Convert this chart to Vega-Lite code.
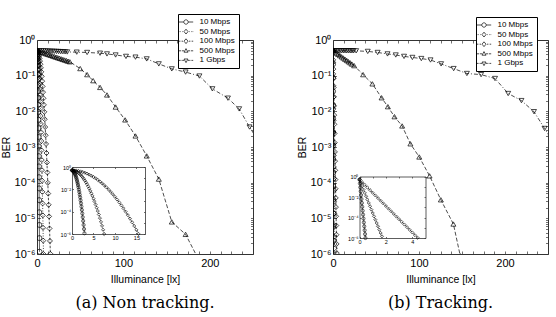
{
  "$schema": "https://vega.github.io/schema/vega-lite/v6.json",
  "padding": {"left": 1, "top": 13, "right": 5, "bottom": 3},
  "background": "white",
  "config": {
    "view": {"stroke": null},
    "font": "Liberation Sans",
    "axis": {"grid": false, "domainColor": "#333", "domainWidth": 1, "tickColor": "#333", "tickWidth": 0.7, "labelColor": "black", "labelFont": "Liberation Sans", "titleFont": "Liberation Sans", "titleFontWeight": "normal", "titleColor": "black", "labelFlush": false}
  },
  "datasets": {
    "na": [
      {"s":"10 Mbps","x":0,"ber":0.5},{"s":"10 Mbps","x":0.1,"ber":0.493},{"s":"10 Mbps","x":0.2,"ber":0.471},{"s":"10 Mbps","x":0.3,"ber":0.436},{"s":"10 Mbps","x":0.4,"ber":0.391},{"s":"10 Mbps","x":0.5,"ber":0.341},{"s":"10 Mbps","x":0.6,"ber":0.288},{"s":"10 Mbps","x":0.7,"ber":0.236},{"s":"10 Mbps","x":0.8,"ber":0.187},{"s":"10 Mbps","x":0.9,"ber":0.144},{"s":"10 Mbps","x":1.0,"ber":0.107},{"s":"10 Mbps","x":1.1,"ber":0.0773},{"s":"10 Mbps","x":1.2,"ber":0.0542},{"s":"10 Mbps","x":1.3,"ber":0.0369},{"s":"10 Mbps","x":1.4,"ber":0.0243},{"s":"10 Mbps","x":1.5,"ber":0.0156},{"s":"10 Mbps","x":1.6,"ber":0.00964},{"s":"10 Mbps","x":1.7,"ber":0.00579},{"s":"10 Mbps","x":1.8,"ber":0.00337},{"s":"10 Mbps","x":1.9,"ber":0.00191},{"s":"10 Mbps","x":2.0,"ber":0.00104},{"s":"10 Mbps","x":2.1,"ber":5.55e-4},{"s":"10 Mbps","x":2.2,"ber":2.86e-4},{"s":"10 Mbps","x":2.3,"ber":1.43e-4},{"s":"10 Mbps","x":2.4,"ber":6.92e-5},{"s":"10 Mbps","x":2.5,"ber":3.24e-5},{"s":"10 Mbps","x":2.6,"ber":1.48e-5},{"s":"10 Mbps","x":2.7,"ber":6.53e-6},{"s":"10 Mbps","x":2.8,"ber":2.79e-6},{"s":"10 Mbps","x":2.9,"ber":1.16e-6},
      {"s":"50 Mbps","x":0,"ber":0.5},{"s":"50 Mbps","x":0.25,"ber":0.493},{"s":"50 Mbps","x":0.5,"ber":0.472},{"s":"50 Mbps","x":0.75,"ber":0.439},{"s":"50 Mbps","x":1,"ber":0.396},{"s":"50 Mbps","x":1.25,"ber":0.348},{"s":"50 Mbps","x":1.5,"ber":0.296},{"s":"50 Mbps","x":1.75,"ber":0.245},{"s":"50 Mbps","x":2,"ber":0.197},{"s":"50 Mbps","x":2.25,"ber":0.154},{"s":"50 Mbps","x":2.5,"ber":0.116},{"s":"50 Mbps","x":2.75,"ber":0.0857},{"s":"50 Mbps","x":3,"ber":0.0612},{"s":"50 Mbps","x":3.25,"ber":0.0426},{"s":"50 Mbps","x":3.5,"ber":0.0287},{"s":"50 Mbps","x":3.75,"ber":0.0188},{"s":"50 Mbps","x":4,"ber":0.012},{"s":"50 Mbps","x":4.25,"ber":0.0074},{"s":"50 Mbps","x":4.5,"ber":0.00444},{"s":"50 Mbps","x":4.75,"ber":0.00259},{"s":"50 Mbps","x":5,"ber":0.00147},{"s":"50 Mbps","x":5.25,"ber":8.07e-4},{"s":"50 Mbps","x":5.5,"ber":4.31e-4},{"s":"50 Mbps","x":5.75,"ber":2.24e-4},{"s":"50 Mbps","x":6,"ber":1.13e-4},{"s":"50 Mbps","x":6.25,"ber":5.52e-5},{"s":"50 Mbps","x":6.5,"ber":2.62e-5},{"s":"50 Mbps","x":6.75,"ber":1.21e-5},{"s":"50 Mbps","x":7,"ber":5.43e-6},{"s":"50 Mbps","x":7.25,"ber":2.37e-6},{"s":"50 Mbps","x":7.5,"ber":1.0e-6},
      {"s":"100 Mbps","x":0,"ber":0.5},{"s":"100 Mbps","x":0.5,"ber":0.493},{"s":"100 Mbps","x":1,"ber":0.473},{"s":"100 Mbps","x":1.5,"ber":0.443},{"s":"100 Mbps","x":2,"ber":0.402},{"s":"100 Mbps","x":2.5,"ber":0.356},{"s":"100 Mbps","x":3,"ber":0.306},{"s":"100 Mbps","x":3.5,"ber":0.256},{"s":"100 Mbps","x":4,"ber":0.209},{"s":"100 Mbps","x":4.5,"ber":0.166},{"s":"100 Mbps","x":5,"ber":0.128},{"s":"100 Mbps","x":5.5,"ber":0.0959},{"s":"100 Mbps","x":6,"ber":0.0702},{"s":"100 Mbps","x":6.5,"ber":0.0499},{"s":"100 Mbps","x":7,"ber":0.0345},{"s":"100 Mbps","x":7.5,"ber":0.0232},{"s":"100 Mbps","x":8,"ber":0.0152},{"s":"100 Mbps","x":8.5,"ber":0.0097},{"s":"100 Mbps","x":9,"ber":0.00601},{"s":"100 Mbps","x":9.5,"ber":0.00363},{"s":"100 Mbps","x":10,"ber":0.00213},{"s":"100 Mbps","x":10.5,"ber":0.00122},{"s":"100 Mbps","x":11,"ber":6.78e-4},{"s":"100 Mbps","x":11.5,"ber":3.67e-4},{"s":"100 Mbps","x":12,"ber":1.93e-4},{"s":"100 Mbps","x":12.5,"ber":9.91e-5},{"s":"100 Mbps","x":13,"ber":4.94e-5},{"s":"100 Mbps","x":13.5,"ber":2.4e-5},{"s":"100 Mbps","x":14,"ber":1.13e-5},{"s":"100 Mbps","x":14.5,"ber":5.2e-6},{"s":"100 Mbps","x":15,"ber":2.32e-6},{"s":"100 Mbps","x":15.5,"ber":1.01e-6},
      {"s":"500 Mbps","x":0,"ber":0.5},{"s":"500 Mbps","x":2,"ber":0.483},{"s":"500 Mbps","x":4,"ber":0.465},{"s":"500 Mbps","x":6,"ber":0.448},{"s":"500 Mbps","x":8,"ber":0.432},{"s":"500 Mbps","x":10,"ber":0.415},{"s":"500 Mbps","x":12,"ber":0.4},{"s":"500 Mbps","x":14,"ber":0.385},{"s":"500 Mbps","x":16,"ber":0.371},{"s":"500 Mbps","x":18,"ber":0.357},{"s":"500 Mbps","x":20,"ber":0.344},{"s":"500 Mbps","x":22,"ber":0.331},{"s":"500 Mbps","x":24,"ber":0.319},{"s":"500 Mbps","x":26,"ber":0.308},{"s":"500 Mbps","x":28,"ber":0.296},{"s":"500 Mbps","x":30,"ber":0.285},{"s":"500 Mbps","x":32,"ber":0.275},{"s":"500 Mbps","x":34,"ber":0.265},{"s":"500 Mbps","x":36,"ber":0.255},{"s":"500 Mbps","x":38,"ber":0.245},{"s":"500 Mbps","x":50,"ber":0.158},{"s":"500 Mbps","x":58,"ber":0.107},{"s":"500 Mbps","x":65,"ber":0.0724},{"s":"500 Mbps","x":73,"ber":0.0468},{"s":"500 Mbps","x":81,"ber":0.0288},{"s":"500 Mbps","x":91,"ber":0.0132},{"s":"500 Mbps","x":102,"ber":0.00575},{"s":"500 Mbps","x":114,"ber":0.00204},{"s":"500 Mbps","x":127,"ber":5.62e-4},{"s":"500 Mbps","x":141,"ber":1.26e-4},{"s":"500 Mbps","x":156,"ber":7.94e-6},{"s":"500 Mbps","x":172,"ber":3.55e-6},{"s":"500 Mbps","x":188,"ber":6.3e-7},
      {"s":"1 Gbps","x":0,"ber":0.5},{"s":"1 Gbps","x":2.5,"ber":0.499},{"s":"1 Gbps","x":5,"ber":0.497},{"s":"1 Gbps","x":7.5,"ber":0.495},{"s":"1 Gbps","x":10,"ber":0.493},{"s":"1 Gbps","x":12.5,"ber":0.49},{"s":"1 Gbps","x":15,"ber":0.487},{"s":"1 Gbps","x":17.5,"ber":0.484},{"s":"1 Gbps","x":20,"ber":0.481},{"s":"1 Gbps","x":22.5,"ber":0.478},{"s":"1 Gbps","x":25,"ber":0.475},{"s":"1 Gbps","x":27.5,"ber":0.472},{"s":"1 Gbps","x":30,"ber":0.469},{"s":"1 Gbps","x":32.5,"ber":0.465},{"s":"1 Gbps","x":35,"ber":0.462},{"s":"1 Gbps","x":46,"ber":0.457},{"s":"1 Gbps","x":58,"ber":0.447},{"s":"1 Gbps","x":73,"ber":0.427},{"s":"1 Gbps","x":81,"ber":0.407},{"s":"1 Gbps","x":91,"ber":0.38},{"s":"1 Gbps","x":103,"ber":0.347},{"s":"1 Gbps","x":114,"ber":0.331},{"s":"1 Gbps","x":127,"ber":0.295},{"s":"1 Gbps","x":141,"ber":0.214},{"s":"1 Gbps","x":156,"ber":0.155},{"s":"1 Gbps","x":172,"ber":0.126},{"s":"1 Gbps","x":188,"ber":0.0977},{"s":"1 Gbps","x":203,"ber":0.0427},{"s":"1 Gbps","x":221,"ber":0.0234},{"s":"1 Gbps","x":234,"ber":0.0117},{"s":"1 Gbps","x":246,"ber":0.00363},{"s":"1 Gbps","x":254,"ber":0.00178}
    ],
    "tr": [
      {"s":"10 Mbps","x":0,"ber":0.5},{"s":"10 Mbps","x":0.03,"ber":0.209},{"s":"10 Mbps","x":0.06,"ber":0.0871},{"s":"10 Mbps","x":0.09,"ber":0.0363},{"s":"10 Mbps","x":0.12,"ber":0.0151},{"s":"10 Mbps","x":0.15,"ber":0.00631},{"s":"10 Mbps","x":0.18,"ber":0.00263},{"s":"10 Mbps","x":0.21,"ber":0.0011},{"s":"10 Mbps","x":0.24,"ber":4.57e-4},{"s":"10 Mbps","x":0.27,"ber":1.91e-4},{"s":"10 Mbps","x":0.3,"ber":7.94e-5},{"s":"10 Mbps","x":0.33,"ber":3.31e-5},{"s":"10 Mbps","x":0.36,"ber":1.38e-5},{"s":"10 Mbps","x":0.39,"ber":5.75e-6},{"s":"10 Mbps","x":0.42,"ber":2.4e-6},{"s":"10 Mbps","x":0.45,"ber":1.0e-6},
      {"s":"50 Mbps","x":0,"ber":0.5},{"s":"50 Mbps","x":0.1,"ber":0.237},{"s":"50 Mbps","x":0.2,"ber":0.112},{"s":"50 Mbps","x":0.3,"ber":0.0527},{"s":"50 Mbps","x":0.4,"ber":0.0249},{"s":"50 Mbps","x":0.5,"ber":0.0117},{"s":"50 Mbps","x":0.6,"ber":0.00555},{"s":"50 Mbps","x":0.7,"ber":0.00262},{"s":"50 Mbps","x":0.8,"ber":0.00124},{"s":"50 Mbps","x":0.9,"ber":5.83e-4},{"s":"50 Mbps","x":1.0,"ber":2.75e-4},{"s":"50 Mbps","x":1.1,"ber":1.3e-4},{"s":"50 Mbps","x":1.2,"ber":6.14e-5},{"s":"50 Mbps","x":1.3,"ber":2.9e-5},{"s":"50 Mbps","x":1.4,"ber":1.37e-5},{"s":"50 Mbps","x":1.5,"ber":6.46e-6},{"s":"50 Mbps","x":1.6,"ber":3.05e-6},{"s":"50 Mbps","x":1.7,"ber":1.44e-6},
      {"s":"100 Mbps","x":0,"ber":0.5},{"s":"100 Mbps","x":0.2,"ber":0.277},{"s":"100 Mbps","x":0.4,"ber":0.153},{"s":"100 Mbps","x":0.6,"ber":0.0843},{"s":"100 Mbps","x":0.8,"ber":0.0466},{"s":"100 Mbps","x":1.0,"ber":0.0257},{"s":"100 Mbps","x":1.2,"ber":0.0142},{"s":"100 Mbps","x":1.4,"ber":0.00783},{"s":"100 Mbps","x":1.6,"ber":0.00433},{"s":"100 Mbps","x":1.8,"ber":0.00239},{"s":"100 Mbps","x":2.0,"ber":0.00132},{"s":"100 Mbps","x":2.2,"ber":7.28e-4},{"s":"100 Mbps","x":2.4,"ber":4.02e-4},{"s":"100 Mbps","x":2.6,"ber":2.22e-4},{"s":"100 Mbps","x":2.8,"ber":1.22e-4},{"s":"100 Mbps","x":3.0,"ber":6.76e-5},{"s":"100 Mbps","x":3.2,"ber":3.73e-5},{"s":"100 Mbps","x":3.4,"ber":2.06e-5},{"s":"100 Mbps","x":3.6,"ber":1.14e-5},{"s":"100 Mbps","x":3.8,"ber":6.28e-6},{"s":"100 Mbps","x":4.0,"ber":3.47e-6},{"s":"100 Mbps","x":4.2,"ber":1.91e-6},{"s":"100 Mbps","x":4.4,"ber":1.06e-6},
      {"s":"500 Mbps","x":0,"ber":0.5},{"s":"500 Mbps","x":2,"ber":0.463},{"s":"500 Mbps","x":4,"ber":0.428},{"s":"500 Mbps","x":6,"ber":0.396},{"s":"500 Mbps","x":8,"ber":0.366},{"s":"500 Mbps","x":10,"ber":0.338},{"s":"500 Mbps","x":12,"ber":0.313},{"s":"500 Mbps","x":14,"ber":0.289},{"s":"500 Mbps","x":16,"ber":0.267},{"s":"500 Mbps","x":18,"ber":0.247},{"s":"500 Mbps","x":20,"ber":0.229},{"s":"500 Mbps","x":22,"ber":0.211},{"s":"500 Mbps","x":24.6,"ber":0.191},{"s":"500 Mbps","x":35,"ber":0.107},{"s":"500 Mbps","x":45.8,"ber":0.0589},{"s":"500 Mbps","x":56.5,"ber":0.024},{"s":"500 Mbps","x":63.8,"ber":0.0135},{"s":"500 Mbps","x":71.5,"ber":0.00708},{"s":"500 Mbps","x":80.4,"ber":0.00389},{"s":"500 Mbps","x":90,"ber":0.00123},{"s":"500 Mbps","x":100.3,"ber":5.25e-4},{"s":"500 Mbps","x":112.3,"ber":1.55e-4},{"s":"500 Mbps","x":125.4,"ber":3.31e-5},{"s":"500 Mbps","x":140,"ber":6.92e-6},{"s":"500 Mbps","x":148,"ber":8.9e-7},
      {"s":"1 Gbps","x":0,"ber":0.5},{"s":"1 Gbps","x":2,"ber":0.5},{"s":"1 Gbps","x":4,"ber":0.5},{"s":"1 Gbps","x":6,"ber":0.5},{"s":"1 Gbps","x":8,"ber":0.5},{"s":"1 Gbps","x":10,"ber":0.5},{"s":"1 Gbps","x":12,"ber":0.5},{"s":"1 Gbps","x":14,"ber":0.499},{"s":"1 Gbps","x":16,"ber":0.499},{"s":"1 Gbps","x":18,"ber":0.499},{"s":"1 Gbps","x":20,"ber":0.499},{"s":"1 Gbps","x":22,"ber":0.498},{"s":"1 Gbps","x":24,"ber":0.498},{"s":"1 Gbps","x":26.9,"ber":0.497},{"s":"1 Gbps","x":40.4,"ber":0.479},{"s":"1 Gbps","x":51.9,"ber":0.447},{"s":"1 Gbps","x":63.4,"ber":0.407},{"s":"1 Gbps","x":73,"ber":0.38},{"s":"1 Gbps","x":82.6,"ber":0.347},{"s":"1 Gbps","x":92.3,"ber":0.324},{"s":"1 Gbps","x":102.7,"ber":0.302},{"s":"1 Gbps","x":113.4,"ber":0.275},{"s":"1 Gbps","x":125.7,"ber":0.214},{"s":"1 Gbps","x":140.3,"ber":0.158},{"s":"1 Gbps","x":155.7,"ber":0.115},{"s":"1 Gbps","x":172.2,"ber":0.107},{"s":"1 Gbps","x":188.4,"ber":0.0832},{"s":"1 Gbps","x":203.7,"ber":0.0316},{"s":"1 Gbps","x":219.1,"ber":0.02},{"s":"1 Gbps","x":233.7,"ber":0.00977},{"s":"1 Gbps","x":246,"ber":0.00331},{"s":"1 Gbps","x":253,"ber":0.00178}
    ]
  },
  "hconcat": [
    {
      "width": 216, "height": 214,
      "title": {"text": "(a) Non tracking.", "orient": "bottom", "anchor": "middle", "frame": "group", "font": "DejaVu Serif", "fontSize": 16, "fontWeight": "normal", "color": "black", "offset": 10},
      "layer": [
        {
          "data": {"name": "na"},
          "layer": [
            {
              "mark": {"type": "line", "color": "black", "strokeWidth": 0.7, "clip": true},
              "encoding": {
                "x": {"field": "x", "type": "quantitative", "scale": {"domain": [0, 250], "nice": false, "zero": false},
                  "axis": {"orient": "bottom", "values": [0,12.5,25,37.5,50,62.5,75,87.5,100,112.5,125,137.5,150,162.5,175,187.5,200,212.5,225,237.5,250], "labelExpr": "datum.value % 100 == 0 ? datum.label : ''", "tickSize": -3, "labelPadding": 6, "labelFontSize": 11, "labelOverlap": false, "title": "Illuminance [lx]", "titleFontSize": 10.5, "titlePadding": 6}},
                "y": {"field": "ber", "type": "quantitative", "scale": {"type": "log", "domain": [1e-6, 1], "nice": false},
                  "axis": {"orient": "left", "values": [1e-6,1e-5,1e-4,1e-3,0.01,0.1,1], "labelExpr": "'10' + ['⁰','⁻¹','⁻²','⁻³','⁻⁴','⁻⁵','⁻⁶'][round(-log(datum.value)/LN10)]", "tickSize": -3.5, "labelPadding": 5.5, "labelFontSize": 11, "labelOverlap": false, "title": "BER", "titleFontSize": 10.5, "titlePadding": 3}},
                "strokeDash": {"field": "s", "type": "nominal", "scale": {"domain": ["10 Mbps","50 Mbps","100 Mbps","500 Mbps","1 Gbps"], "range": [[1,0],[1,1.5],[2.5,1.5],[4,2],[4,2,1,2]]}, "legend": null}
              }
            },
            {
              "mark": {"type": "point", "color": "black", "filled": false, "strokeWidth": 0.7, "size": 25, "opacity": 1, "clip": true},
              "encoding": {
                "x": {"field": "x", "type": "quantitative", "axis": null},
                "y": {"field": "ber", "type": "quantitative", "axis": null},
                "shape": {"field": "s", "type": "nominal", "scale": {"domain": ["10 Mbps","50 Mbps","100 Mbps","500 Mbps","1 Gbps"], "range": ["circle","diamond","diamond","triangle-up","triangle-down"]}, "legend": null}
              }
            },
            {
              "transform": [{"filter": "false"}],
              "mark": {"type": "point", "color": "black", "filled": false, "strokeWidth": 0.7, "size": 64, "opacity": 1},
              "encoding": {
                "x": {"field": "x", "type": "quantitative", "axis": {"orient": "top", "values": [0,12.5,25,37.5,50,62.5,75,87.5,100,112.5,125,137.5,150,162.5,175,187.5,200,212.5,225,237.5,250], "labels": false, "tickSize": -3, "title": null}},
                "y": {"field": "ber", "type": "quantitative", "axis": {"orient": "right", "values": [1e-6,2e-6,3e-6,4e-6,5e-6,6e-6,7e-6,8e-6,9e-6,1e-5,2e-5,3e-5,4e-5,5e-5,6e-5,7e-5,8e-5,9e-5,1e-4,2e-4,3e-4,4e-4,5e-4,6e-4,7e-4,8e-4,9e-4,1e-3,2e-3,3e-3,4e-3,5e-3,6e-3,7e-3,8e-3,9e-3,0.01,0.02,0.03,0.04,0.05,0.06,0.07,0.08,0.09,0.1,0.2,0.3,0.4,0.5,0.6,0.7,0.8,0.9,1], "labels": false, "tickSize": -2.5, "title": null}},
                "shape": {"field": "s", "type": "nominal",
                  "scale": {"domain": ["10 Mbps","50 Mbps","100 Mbps","500 Mbps","1 Gbps"], "range": [
                    "M-1.8,0L-0.55,0M0.55,0L1.8,0M0.55,0A0.55,0.55,0,1,1,-0.55,0A0.55,0.55,0,1,1,0.55,0Z",
                    "M-1.8,0L-1.65,0M-1.4,0L-1.25,0M-1.0,0L-0.85,0M0.85,0L1.0,0M1.25,0L1.4,0M1.65,0L1.8,0M0,-0.6L0.5,0L0,0.6L-0.5,0Z",
                    "M-1.8,0L-1.5,0M-1.35,0L-1.25,0M-1.1,0L-0.75,0M0.75,0L1.1,0M1.25,0L1.35,0M1.5,0L1.8,0M0,-0.6L0.5,0L0,0.6L-0.5,0Z",
                    "M-1.8,0L-1.2,0M-1.0,0L-0.5,0M0.5,0L1.0,0M1.2,0L1.8,0M0,-0.55L0.5,0.35L-0.5,0.35Z",
                    "M-1.8,0L-1.35,0M-1.2,0L-1.1,0M-0.95,0L-0.5,0M0.5,0L0.95,0M1.1,0L1.2,0M1.35,0L1.8,0M0,0.55L0.5,-0.35L-0.5,-0.35Z"]},
                  "legend": {"orient": "none", "legendX": 141, "legendY": -26, "title": null, "symbolSize": 64, "symbolStrokeWidth": 0.7, "symbolStrokeColor": "black", "labelFont": "Liberation Sans", "labelFontSize": 8, "labelColor": "black", "labelOffset": 9, "padding": 3.5, "rowPadding": 0.6, "strokeColor": "black", "fillColor": "white"}}
              }
            }
          ],
          "resolve": {"scale": {"shape": "independent"}, "axis": {"x": "independent", "y": "independent"}, "legend": {"shape": "independent"}}
        },
        {
          "data": {"name": "na"},
          "transform": [{"filter": {"field": "s", "oneOf": ["10 Mbps","50 Mbps","100 Mbps"]}}],
          "layer": [
            {
              "mark": {"type": "line", "color": "black", "strokeWidth": 0.6},
              "encoding": {
                "x": {"field": "x", "type": "quantitative", "scale": {"domain": [0, 17], "range": [35, 108], "nice": false, "zero": false},
                  "axis": {"orient": "bottom", "offset": -20, "values": [0,5,10,15], "tickSize": -1.5, "labelPadding": 3, "labelFontSize": 5.5, "labelOverlap": false, "title": null, "domainWidth": 0.8}},
                "y": {"field": "ber", "type": "quantitative", "scale": {"type": "log", "domain": [1e-6, 1], "range": [194, 127], "nice": false},
                  "axis": {"orient": "left", "offset": -35, "values": [1e-6,1e-4,0.01,1], "labelExpr": "'10' + ['⁰','⁻¹','⁻²','⁻³','⁻⁴','⁻⁵','⁻⁶'][round(-log(datum.value)/LN10)]", "tickSize": -1.5, "labelPadding": 3, "labelFontSize": 5.5, "labelOverlap": false, "title": null, "domainWidth": 0.8}},
                "strokeDash": {"field": "s", "type": "nominal", "scale": {"domain": ["10 Mbps","50 Mbps","100 Mbps"], "range": [[1,0],[1,1.5],[2.5,1.5]]}, "legend": null}
              }
            },
            {
              "mark": {"type": "point", "color": "black", "filled": false, "strokeWidth": 0.6, "size": 10, "opacity": 1},
              "encoding": {
                "x": {"field": "x", "type": "quantitative", "axis": null},
                "y": {"field": "ber", "type": "quantitative", "axis": null},
                "shape": {"field": "s", "type": "nominal", "scale": {"domain": ["10 Mbps","50 Mbps","100 Mbps"], "range": ["circle","diamond","diamond"]}, "legend": null}
              }
            },
            {
              "transform": [{"filter": "false"}],
              "mark": {"type": "point", "opacity": 1},
              "encoding": {
                "x": {"field": "x", "type": "quantitative", "axis": {"orient": "top", "offset": -127, "values": [0,5,10,15], "labels": false, "tickSize": -1.5, "title": null, "domainWidth": 0.8}},
                "y": {"field": "ber", "type": "quantitative", "axis": {"orient": "right", "offset": -108, "values": [1e-6,1e-5,1e-4,1e-3,0.01,0.1,1], "labels": false, "tickSize": -1.5, "title": null, "domainWidth": 0.8}}
              }
            }
          ],
          "resolve": {"axis": {"x": "independent", "y": "independent"}}
        }
      ],
      "resolve": {"scale": {"x": "independent", "y": "independent", "shape": "independent", "strokeDash": "independent"}, "axis": {"x": "independent", "y": "independent"}, "legend": {"shape": "independent", "strokeDash": "independent"}}
    },
    {
      "width": 215, "height": 214,
      "title": {"text": "(b) Tracking.", "orient": "bottom", "anchor": "middle", "frame": "group", "font": "DejaVu Serif", "fontSize": 16, "fontWeight": "normal", "color": "black", "offset": 10},
      "layer": [
        {
          "data": {"name": "tr"},
          "layer": [
            {
              "mark": {"type": "line", "color": "black", "strokeWidth": 0.7, "clip": true},
              "encoding": {
                "x": {"field": "x", "type": "quantitative", "scale": {"domain": [0, 250], "nice": false, "zero": false},
                  "axis": {"orient": "bottom", "values": [0,12.5,25,37.5,50,62.5,75,87.5,100,112.5,125,137.5,150,162.5,175,187.5,200,212.5,225,237.5,250], "labelExpr": "datum.value % 100 == 0 ? datum.label : ''", "tickSize": -3, "labelPadding": 6, "labelFontSize": 11, "labelOverlap": false, "title": "Illuminance [lx]", "titleFontSize": 10.5, "titlePadding": 6}},
                "y": {"field": "ber", "type": "quantitative", "scale": {"type": "log", "domain": [1e-6, 1], "nice": false},
                  "axis": {"orient": "left", "values": [1e-6,1e-5,1e-4,1e-3,0.01,0.1,1], "labelExpr": "'10' + ['⁰','⁻¹','⁻²','⁻³','⁻⁴','⁻⁵','⁻⁶'][round(-log(datum.value)/LN10)]", "tickSize": -3.5, "labelPadding": 5.5, "labelFontSize": 11, "labelOverlap": false, "title": "BER", "titleFontSize": 10.5, "titlePadding": 3}},
                "strokeDash": {"field": "s", "type": "nominal", "scale": {"domain": ["10 Mbps","50 Mbps","100 Mbps","500 Mbps","1 Gbps"], "range": [[1,0],[1,1.5],[2.5,1.5],[4,2],[4,2,1,2]]}, "legend": null}
              }
            },
            {
              "mark": {"type": "point", "color": "black", "filled": false, "strokeWidth": 0.7, "size": 25, "opacity": 1, "clip": true},
              "encoding": {
                "x": {"field": "x", "type": "quantitative", "axis": null},
                "y": {"field": "ber", "type": "quantitative", "axis": null},
                "shape": {"field": "s", "type": "nominal", "scale": {"domain": ["10 Mbps","50 Mbps","100 Mbps","500 Mbps","1 Gbps"], "range": ["circle","diamond","diamond","triangle-up","triangle-down"]}, "legend": null}
              }
            },
            {
              "transform": [{"filter": "false"}],
              "mark": {"type": "point", "color": "black", "filled": false, "strokeWidth": 0.7, "size": 64, "opacity": 1},
              "encoding": {
                "x": {"field": "x", "type": "quantitative", "axis": {"orient": "top", "values": [0,12.5,25,37.5,50,62.5,75,87.5,100,112.5,125,137.5,150,162.5,175,187.5,200,212.5,225,237.5,250], "labels": false, "tickSize": -3, "title": null}},
                "y": {"field": "ber", "type": "quantitative", "axis": {"orient": "right", "values": [1e-6,2e-6,3e-6,4e-6,5e-6,6e-6,7e-6,8e-6,9e-6,1e-5,2e-5,3e-5,4e-5,5e-5,6e-5,7e-5,8e-5,9e-5,1e-4,2e-4,3e-4,4e-4,5e-4,6e-4,7e-4,8e-4,9e-4,1e-3,2e-3,3e-3,4e-3,5e-3,6e-3,7e-3,8e-3,9e-3,0.01,0.02,0.03,0.04,0.05,0.06,0.07,0.08,0.09,0.1,0.2,0.3,0.4,0.5,0.6,0.7,0.8,0.9,1], "labels": false, "tickSize": -2.5, "title": null}},
                "shape": {"field": "s", "type": "nominal",
                  "scale": {"domain": ["10 Mbps","50 Mbps","100 Mbps","500 Mbps","1 Gbps"], "range": [
                    "M-1.8,0L-0.55,0M0.55,0L1.8,0M0.55,0A0.55,0.55,0,1,1,-0.55,0A0.55,0.55,0,1,1,0.55,0Z",
                    "M-1.8,0L-1.65,0M-1.4,0L-1.25,0M-1.0,0L-0.85,0M0.85,0L1.0,0M1.25,0L1.4,0M1.65,0L1.8,0M0,-0.6L0.5,0L0,0.6L-0.5,0Z",
                    "M-1.8,0L-1.5,0M-1.35,0L-1.25,0M-1.1,0L-0.75,0M0.75,0L1.1,0M1.25,0L1.35,0M1.5,0L1.8,0M0,-0.6L0.5,0L0,0.6L-0.5,0Z",
                    "M-1.8,0L-1.2,0M-1.0,0L-0.5,0M0.5,0L1.0,0M1.2,0L1.8,0M0,-0.55L0.5,0.35L-0.5,0.35Z",
                    "M-1.8,0L-1.35,0M-1.2,0L-1.1,0M-0.95,0L-0.5,0M0.5,0L0.95,0M1.1,0L1.2,0M1.35,0L1.8,0M0,0.55L0.5,-0.35L-0.5,-0.35Z"]},
                  "legend": {"orient": "none", "legendX": 143, "legendY": -23, "title": null, "symbolSize": 64, "symbolStrokeWidth": 0.7, "symbolStrokeColor": "black", "labelFont": "Liberation Sans", "labelFontSize": 8, "labelColor": "black", "labelOffset": 9, "padding": 3.5, "rowPadding": 0.6, "strokeColor": "black", "fillColor": "white"}}
              }
            }
          ],
          "resolve": {"scale": {"shape": "independent"}, "axis": {"x": "independent", "y": "independent"}, "legend": {"shape": "independent"}}
        },
        {
          "data": {"name": "tr"},
          "transform": [{"filter": {"field": "s", "oneOf": ["10 Mbps","50 Mbps","100 Mbps"]}}],
          "layer": [
            {
              "mark": {"type": "line", "color": "black", "strokeWidth": 0.6},
              "encoding": {
                "x": {"field": "x", "type": "quantitative", "scale": {"domain": [0, 5], "range": [26.5, 92.5], "nice": false, "zero": false},
                  "axis": {"orient": "bottom", "offset": -16, "values": [0,2,4], "tickSize": -1.5, "labelPadding": 3, "labelFontSize": 5.5, "labelOverlap": false, "title": null, "domainWidth": 0.8}},
                "y": {"field": "ber", "type": "quantitative", "scale": {"type": "log", "domain": [1e-6, 1], "range": [198, 136.5], "nice": false},
                  "axis": {"orient": "left", "offset": -26.5, "values": [1e-6,1e-4,0.01,1], "labelExpr": "'10' + ['⁰','⁻¹','⁻²','⁻³','⁻⁴','⁻⁵','⁻⁶'][round(-log(datum.value)/LN10)]", "tickSize": -1.5, "labelPadding": 3, "labelFontSize": 5.5, "labelOverlap": false, "title": null, "domainWidth": 0.8}},
                "strokeDash": {"field": "s", "type": "nominal", "scale": {"domain": ["10 Mbps","50 Mbps","100 Mbps"], "range": [[1,0],[1,1.5],[2.5,1.5]]}, "legend": null}
              }
            },
            {
              "mark": {"type": "point", "color": "black", "filled": false, "strokeWidth": 0.6, "size": 10, "opacity": 1},
              "encoding": {
                "x": {"field": "x", "type": "quantitative", "axis": null},
                "y": {"field": "ber", "type": "quantitative", "axis": null},
                "shape": {"field": "s", "type": "nominal", "scale": {"domain": ["10 Mbps","50 Mbps","100 Mbps"], "range": ["circle","diamond","diamond"]}, "legend": null}
              }
            },
            {
              "transform": [{"filter": "false"}],
              "mark": {"type": "point", "opacity": 1},
              "encoding": {
                "x": {"field": "x", "type": "quantitative", "axis": {"orient": "top", "offset": -136.5, "values": [0,1,2,3,4,5], "labels": false, "tickSize": -1.5, "title": null, "domainWidth": 0.8}},
                "y": {"field": "ber", "type": "quantitative", "axis": {"orient": "right", "offset": -122.5, "values": [1e-6,1e-5,1e-4,1e-3,0.01,0.1,1], "labels": false, "tickSize": -1.5, "title": null, "domainWidth": 0.8}}
              }
            }
          ],
          "resolve": {"axis": {"x": "independent", "y": "independent"}}
        }
      ],
      "resolve": {"scale": {"x": "independent", "y": "independent", "shape": "independent", "strokeDash": "independent"}, "axis": {"x": "independent", "y": "independent"}, "legend": {"shape": "independent", "strokeDash": "independent"}}
    }
  ],
  "spacing": 80,
  "bounds": "flush",
  "resolve": {"scale": {"shape": "independent", "strokeDash": "independent"}, "legend": {"shape": "independent", "strokeDash": "independent"}}
}
